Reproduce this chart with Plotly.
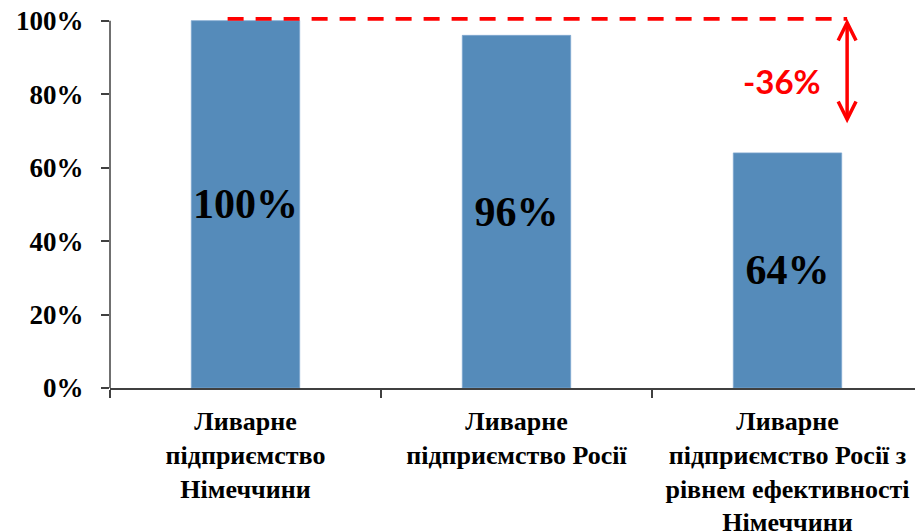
import plotly.graph_objects as go

categories = [
    "Ливарне<br>підприємство<br>Німеччини",
    "Ливарне<br>підприємство Росії",
    "Ливарне<br>підприємство Росії з<br>рівнем ефективності<br>Німеччини",
]
values = [100, 96, 64]
bar_labels = ["100%", "96%", "64%"]
y_ticks = [0, 20, 40, 60, 80, 100]
y_tick_labels = ["0%", "20%", "40%", "60%", "80%", "100%"]

RED = "#FF0000"
BAR = "#558BBA"
AXIS = "#404040"
SERIF = "Liberation Serif, Times New Roman, serif"

diff = values[2] - values[0]
top = values[0] + 0.5
arrow_x = 2.22

fig = go.Figure()
fig.add_trace(go.Bar(
    x=categories, y=values, text=bar_labels,
    textposition="inside", insidetextanchor="middle", textangle=0,
    constraintext="none",
    textfont=dict(family=SERIF, size=42, color="black", weight="bold"),
    marker=dict(color=BAR, line=dict(color="#7FA7CF", width=0.8)),
    width=0.4, hoverinfo="skip",
))

# dashed reference line at the first bar's level
fig.add_shape(type="line", xref="x", yref="y", x0=-0.066, x1=arrow_x,
              y0=top, y1=top, line=dict(color=RED, width=4, dash="16px,12px"))
# y-axis line (drawn from 0 to 100)
fig.add_shape(type="line", xref="paper", yref="y", x0=0, x1=0, y0=0, y1=100,
              line=dict(color=AXIS, width=1.5))

# double-headed arrow
fig.add_annotation(x=arrow_x, y=top, ax=arrow_x, ay=71.7, xref="x", yref="y",
                   axref="x", ayref="y", showarrow=True, text="",
                   arrowhead=5, startarrowhead=5, arrowside="end+start",
                   arrowwidth=3.5, arrowsize=1, startarrowsize=1,
                   arrowcolor=RED, standoff=0, startstandoff=0)
fig.add_annotation(x=1.98, y=83.5, xref="x", yref="y", showarrow=False,
                   text=f"{diff}%",
                   font=dict(family="Lato, Liberation Sans, sans-serif", size=33,
                             color=RED, weight="bold"))

fig.update_layout(
    width=915, height=523,
    margin=dict(l=102, r=0, t=9, b=143),
    plot_bgcolor="white", paper_bgcolor="white",
    showlegend=False, bargap=0.6,
)
fig.update_xaxes(
    showline=True, linecolor=AXIS, linewidth=1.5,
    ticks="outside", tickson="boundaries", ticklen=8, tickcolor=AXIS,
    tickwidth=1.5,
    tickfont=dict(family=SERIF, size=26, color="black", weight="bold"),
    ticklabelstandoff=9, ticklabeloverflow="allow",
    showgrid=False, automargin=False,
)
fig.update_yaxes(
    range=[0, 101], tickvals=y_ticks, ticktext=y_tick_labels,
    showline=False, ticks="outside", ticklen=8, tickcolor=AXIS,
    tickwidth=1.5,
    tickfont=dict(family=SERIF, size=27, color="black", weight="bold"),
    ticklabelstandoff=12, ticklabeloverflow="allow",
    showgrid=False, zeroline=False, automargin=False,
)

fig.write_html("out.html")
